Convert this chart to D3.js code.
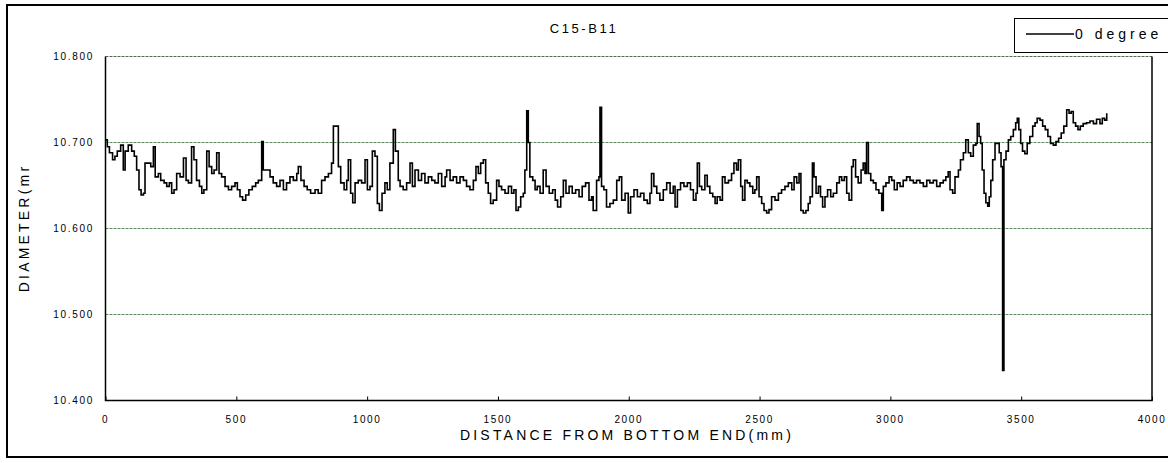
<!DOCTYPE html>
<html>
<head>
<meta charset="utf-8">
<script src="https://cdn.jsdelivr.net/npm/d3@7"></script>
<style>
  body { margin: 0; background: #fff; }
  text { font-family: "Liberation Sans", Arial, sans-serif; fill: #000; }
</style>
</head>
<body>
<div id="chart"></div>
<script>
'use strict';

var width = 1168;
var height = 463;

var title = 'C15-B11';
var seriesName = '0 degree';
var xTicks = [0, 500, 1000, 1500, 2000, 2500, 3000, 3500, 4000];
var yTicks = [10.4, 10.5, 10.6, 10.7, 10.8];

// distance from bottom end (mm)
var distance = [
  0, 7, 15, 27, 36, 45, 58, 68, 75, 87,
  100, 110, 119, 128, 136, 145, 151, 164, 173, 183,
  190, 202, 211, 224, 234, 244, 253, 262, 272, 285,
  298, 308, 317, 329, 338, 348, 359, 368, 376, 387,
  396, 406, 415, 425, 434, 444, 457, 470, 482, 495,
  504, 514, 524, 536, 548, 561, 574, 584, 597, 603,
  616, 629, 641, 654, 667, 680, 692, 705, 718, 731,
  737, 747, 759, 771, 784, 801, 813, 826, 839, 852,
  864, 871, 884, 890, 899, 912, 922, 928, 937, 945,
  954, 966, 979, 992, 1001, 1011, 1020, 1030, 1039, 1047,
  1057, 1068, 1077, 1087, 1100, 1108, 1119,
  1126, 1138, 1151, 1164, 1173, 1183, 1196, 1208, 1221, 1234,
  1247, 1259, 1272, 1285, 1298, 1304, 1317, 1329, 1342, 1355,
  1368, 1380, 1393, 1406, 1416, 1425, 1434, 1444, 1453, 1463,
  1472, 1482, 1495, 1504, 1514, 1527, 1540, 1552, 1561, 1569,
  1578, 1587, 1597, 1603, 1610, 1616, 1622, 1633, 1642, 1650,
  1661, 1673, 1684, 1696, 1709, 1719, 1728, 1740, 1750, 1760,
  1772, 1784, 1797, 1810, 1822, 1835, 1848, 1858, 1864, 1877,
  1886, 1890, 1896, 1905, 1915, 1928, 1941, 1954, 1964, 1973,
  1986, 1998, 2007, 2020, 2033, 2045, 2058, 2071, 2081, 2087,
  2096, 2107, 2119, 2132, 2145, 2158, 2170, 2177, 2186, 2198,
  2211, 2224, 2236, 2247, 2257, 2262, 2270,
  2279, 2291, 2300, 2310, 2321, 2330, 2338, 2349, 2358, 2368,
  2381, 2393, 2402, 2412, 2419, 2428, 2435, 2444, 2453, 2463,
  2474, 2482, 2489, 2498, 2508, 2517, 2527, 2536, 2546, 2559,
  2572, 2584, 2597, 2610, 2623, 2632, 2642, 2651, 2658, 2667,
  2677, 2686, 2693, 2702, 2708, 2716, 2725, 2733, 2741, 2750,
  2760, 2772, 2782, 2795, 2805, 2814, 2824, 2833, 2842, 2852,
  2858, 2867, 2877, 2888, 2896, 2903, 2909, 2916, 2925, 2935,
  2945, 2956, 2967, 2973, 2983, 2995, 3005, 3015, 3026, 3037,
  3049, 3062, 3075, 3088, 3100, 3113, 3126, 3139, 3151, 3164,
  3177, 3190, 3202, 3212, 3221,
  3228, 3238, 3247, 3260, 3268, 3279, 3288, 3298, 3307, 3317,
  3327, 3332, 3339, 3345, 3351, 3358, 3365, 3372, 3378, 3384,
  3391, 3400, 3409, 3416, 3423, 3429, 3434, 3442, 3451, 3460,
  3470, 3479, 3485, 3491, 3498, 3505, 3514, 3523, 3533, 3544,
  3553, 3561, 3572, 3582, 3592, 3602, 3612, 3623, 3633, 3643,
  3653, 3663, 3674, 3683, 3691, 3699, 3708, 3717, 3726, 3737,
  3750, 3763, 3776, 3788, 3801, 3810, 3819, 3827
];

// diameter (mm) at each distance
var diameter = [
  10.703, 10.695, 10.688, 10.680, 10.684, 10.690, 10.697, 10.668, 10.690, 10.697,
  10.690, 10.684, 10.668, 10.645, 10.639, 10.641, 10.676, 10.676, 10.672, 10.695,
  10.660, 10.664, 10.656, 10.653, 10.649, 10.653, 10.641, 10.645, 10.664, 10.660,
  10.682, 10.656, 10.653, 10.695, 10.680, 10.656, 10.649, 10.641, 10.645, 10.690,
  10.672, 10.664, 10.668, 10.688, 10.664, 10.660, 10.649, 10.645, 10.649, 10.653,
  10.645, 10.637, 10.633, 10.639, 10.645, 10.649, 10.653, 10.656, 10.701, 10.668,
  10.668, 10.660, 10.653, 10.649, 10.656, 10.645, 10.653, 10.660, 10.656, 10.664,
  10.672, 10.656, 10.649, 10.645, 10.641, 10.645, 10.641, 10.656, 10.660, 10.664,
  10.676, 10.719, 10.719, 10.672, 10.653, 10.645, 10.656, 10.680, 10.641, 10.630,
  10.653, 10.656, 10.653, 10.680, 10.645, 10.649, 10.690, 10.684, 10.629, 10.621,
  10.641, 10.653, 10.645, 10.676, 10.715, 10.690, 10.656,
  10.649, 10.645, 10.653, 10.676, 10.649, 10.668, 10.656, 10.664, 10.653, 10.660,
  10.656, 10.653, 10.664, 10.649, 10.660, 10.668, 10.656, 10.660, 10.653, 10.660,
  10.656, 10.649, 10.645, 10.656, 10.672, 10.664, 10.676, 10.680, 10.653, 10.641,
  10.629, 10.633, 10.656, 10.649, 10.645, 10.641, 10.649, 10.641, 10.645, 10.621,
  10.625, 10.637, 10.641, 10.668, 10.737, 10.700, 10.660, 10.656, 10.645, 10.649,
  10.641, 10.668, 10.649, 10.641, 10.645, 10.633, 10.625, 10.637, 10.656, 10.641,
  10.649, 10.641, 10.645, 10.637, 10.649, 10.653, 10.633, 10.637, 10.621, 10.656,
  10.660, 10.741, 10.649, 10.645, 10.625, 10.629, 10.633, 10.656, 10.660, 10.633,
  10.641, 10.618, 10.637, 10.645, 10.637, 10.641, 10.633, 10.629, 10.641, 10.664,
  10.649, 10.641, 10.633, 10.645, 10.653, 10.641, 10.649, 10.625, 10.645, 10.653,
  10.649, 10.653, 10.645, 10.633, 10.641, 10.676, 10.649,
  10.645, 10.662, 10.649, 10.641, 10.637, 10.629, 10.637, 10.633, 10.660, 10.653,
  10.656, 10.664, 10.676, 10.668, 10.680, 10.649, 10.633, 10.656, 10.653, 10.649,
  10.641, 10.645, 10.660, 10.637, 10.629, 10.621, 10.618, 10.622, 10.637, 10.633,
  10.641, 10.645, 10.649, 10.653, 10.645, 10.660, 10.653, 10.664, 10.621, 10.618,
  10.621, 10.629, 10.637, 10.676, 10.660, 10.641, 10.649, 10.637, 10.625, 10.637,
  10.645, 10.637, 10.641, 10.653, 10.660, 10.656, 10.660, 10.641, 10.633, 10.672,
  10.680, 10.660, 10.653, 10.668, 10.676, 10.664, 10.700, 10.664, 10.656, 10.653,
  10.645, 10.641, 10.621, 10.649, 10.653, 10.660, 10.656, 10.645, 10.653, 10.649,
  10.656, 10.660, 10.656, 10.653, 10.656, 10.653, 10.649, 10.656, 10.653, 10.656,
  10.649, 10.653, 10.656, 10.660, 10.666,
  10.645, 10.641, 10.660, 10.668, 10.680, 10.688, 10.703, 10.688, 10.684, 10.697,
  10.699, 10.722, 10.707, 10.699, 10.668, 10.641, 10.630, 10.626, 10.637, 10.656,
  10.680, 10.699, 10.699, 10.688, 10.672, 10.435, 10.680, 10.690, 10.703, 10.707,
  10.715, 10.723, 10.728, 10.715, 10.699, 10.690, 10.687, 10.699, 10.707, 10.719,
  10.723, 10.728, 10.726, 10.719, 10.715, 10.707, 10.699, 10.697, 10.701, 10.705,
  10.711, 10.719, 10.738, 10.734, 10.736, 10.723, 10.719, 10.715, 10.719, 10.722,
  10.723, 10.725, 10.722, 10.727, 10.722, 10.728, 10.726, 10.734
];

var plot = { left: 105.5, right: 1152, top: 56.5, bottom: 400.5 };

var svg = d3.select('#chart').append('svg').attr('width', width).attr('height', height);

// outer frame (runs off the right edge like the original)
svg.append('rect').attr('x', 7).attr('y', 5).attr('width', 1180).attr('height', 452)
  .attr('fill', 'none').attr('stroke', '#000').attr('stroke-width', 2);

var x = d3.scaleLinear().domain([0, 4000]).range([plot.left, plot.right]);
var y = d3.scaleLinear().domain([10.4, 10.8]).range([plot.bottom, plot.top]);

// grid lines
svg.append('g').selectAll('line').data(yTicks.filter(function (d) { return d > 10.4; })).enter().append('line')
  .attr('x1', plot.left).attr('x2', plot.right)
  .attr('y1', function (d) { return y(d); }).attr('y2', function (d) { return y(d); })
  .attr('stroke', function (d) { return d === 10.8 ? '#4f6a4f' : '#5f8a5f'; })
  .attr('stroke-width', 1).attr('stroke-dasharray', '3,1');

// x axis with inside ticks
var xAxis = d3.axisTop(x).tickValues(xTicks).tickSize(4).tickFormat('');
var gx = svg.append('g').attr('transform', 'translate(0,' + plot.bottom + ')').call(xAxis);
gx.select('.domain').remove();
gx.selectAll('line').attr('stroke', '#000');

svg.append('g').selectAll('text').data(xTicks).enter().append('text')
  .attr('x', function (d) { return x(d); }).attr('y', 423)
  .attr('text-anchor', 'middle').style('font-size', '10px').style('letter-spacing', '1.6px')
  .text(function (d) { return d; });

svg.append('g').selectAll('text').data(yTicks).enter().append('text')
  .attr('x', 94).attr('y', function (d) { return y(d) + 3.5; })
  .attr('text-anchor', 'end').style('font-size', '10px').style('letter-spacing', '1.7px')
  .text(function (d) { return d3.format('.3f')(d); });

// plot frame: left, bottom, right
svg.append('path').attr('d', 'M' + plot.left + ',' + plot.top + 'V' + plot.bottom + 'H' + plot.right + 'V' + plot.top)
  .attr('fill', 'none').attr('stroke', '#000').attr('stroke-width', 1.5);

// series
var points = distance.map(function (d, i) { return [d, diameter[i]]; });
var line = d3.line()
  .x(function (d) { return x(d[0]); })
  .y(function (d) { return y(d[1]); })
  .curve(d3.curveStepAfter);

svg.append('path').datum(points).attr('d', line)
  .attr('fill', 'none').attr('stroke', '#000').attr('stroke-width', 1.6)
  .attr('stroke-linejoin', 'miter');

// titles
svg.append('text').attr('x', 584).attr('y', 33).attr('text-anchor', 'middle')
  .style('font-size', '13px').style('letter-spacing', '2.6px').text(title);

svg.append('text').attr('x', 627).attr('y', 440).attr('text-anchor', 'middle')
  .style('font-size', '14px').style('letter-spacing', '3.2px').text('DISTANCE FROM BOTTOM END(mm)');

svg.append('text').attr('transform', 'translate(29,228) rotate(-90)').attr('text-anchor', 'middle')
  .style('font-size', '14px').style('letter-spacing', '3.2px').text('DIAMETER(mr');

// legend
var legend = svg.append('g');
legend.append('rect').attr('x', 1014.5).attr('y', 18.5).attr('width', 180).attr('height', 34)
  .attr('fill', '#fff').attr('stroke', '#000').attr('stroke-width', 1);
legend.append('line').attr('x1', 1026).attr('x2', 1074).attr('y1', 34).attr('y2', 34)
  .attr('stroke', '#000').attr('stroke-width', 1.6);
legend.append('text').attr('x', 1075).attr('y', 39)
  .style('font-size', '14px').style('letter-spacing', '4px').text(seriesName);
</script>
</body>
</html>
